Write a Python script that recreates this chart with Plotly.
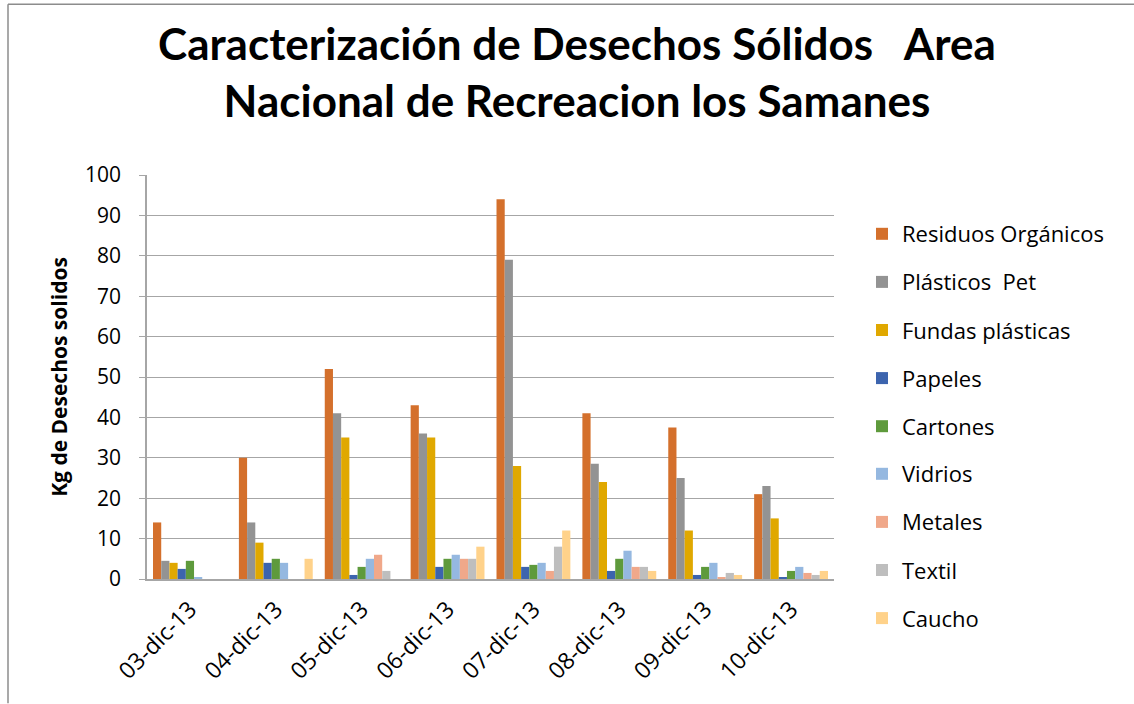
import plotly.graph_objects as go

# Dates of each sampling day
fechas = ["03-dic-13", "04-dic-13", "05-dic-13", "06-dic-13",
          "07-dic-13", "08-dic-13", "09-dic-13", "10-dic-13"]

# Kilograms collected per waste type and day
residuos_organicos = [14, 30, 52, 43, 94, 41, 37.5, 21]
plasticos_pet = [4.5, 14, 41, 36, 79, 28.5, 25, 23]
fundas_plasticas = [4, 9, 35, 35, 28, 24, 12, 15]
papeles = [2.5, 4, 1, 3, 3, 2, 1, 0.5]
cartones = [4.5, 5, 3, 5, 3.5, 5, 3, 2]
vidrios = [0.4, 4, 5, 6, 4, 7, 4, 3]
metales = [0, 0, 6, 5, 2, 3, 0.5, 1.5]
textil = [0, 0, 2, 5, 8, 3, 1.5, 1]
caucho = [0, 5, 0, 8, 12, 2, 1, 2]

series = [
    ("Residuos Orgánicos", residuos_organicos, "#D4702C"),
    ("Plásticos  Pet", plasticos_pet, "#939393"),
    ("Fundas plásticas", fundas_plasticas, "#E0A800"),
    ("Papeles", papeles, "#3C64AE"),
    ("Cartones", cartones, "#5E9A3C"),
    ("Vidrios", vidrios, "#95B8E0"),
    ("Metales", metales, "#F0A88A"),
    ("Textil", textil, "#BEBEBE"),
    ("Caucho", caucho, "#FFD28A"),
]

fig = go.Figure()
for i, (nombre, valores, color) in enumerate(series):
    # the legend column is split in two boxes so it is never scrolled
    fig.add_trace(go.Bar(
        x=fechas, y=valores, name=nombre,
        marker=dict(color=color, line=dict(width=0)),
        legendgroup=f"g{i}",
        legend="legend" if i < 5 else "legend2",
    ))

W, H = 1134, 704
L, R, T, B = 147, 1134 - 834, 175, 704 - 579.5
pw, ph = W - L - R, H - T - B


def px_x(px):
    return (px - L) / pw


def px_y(py):
    return (H - B - py) / ph


gris = "#A6A6A6"
legend_style = dict(
    x=px_x(862), xanchor="left", xref="paper",
    yanchor="top", yref="container",
    traceorder="grouped", tracegroupgap=16.5,
    font=dict(family="Open Sans", size=22, color="#000000"),
    bgcolor="rgba(0,0,0,0)",
)

fig.update_layout(
    width=W, height=H,
    margin=dict(l=L, r=R, t=T, b=B, autoexpand=False),
    paper_bgcolor="white", plot_bgcolor="white",
    barmode="group", bargap=0.14, bargroupgap=0,
    font=dict(family="Open Sans", color="#000000"),
    title=dict(
        text="<b>Caracterización de Desechos Sólidos   Area<br>Nacional de Recreacion los Samanes</b>",
        x=577 / W, xanchor="center", xref="container",
        y=1 - 60 / H, yanchor="middle", yref="container",
        font=dict(family="Lato", size=44, color="#000000"),
    ),
    legend=dict(legend_style, y=1 - 213 / H),
    legend2=dict(legend_style, y=1 - 453 / H),
    showlegend=True,
    xaxis=dict(
        showgrid=False, showline=True, linecolor=gris, linewidth=1.5,
        tickangle=-45, ticks="", ticklabelstandoff=6,
        tickfont=dict(family="Open Sans", size=23, color="#000000"),
    ),
    yaxis=dict(
        range=[0, 100], dtick=10, showgrid=True, gridcolor=gris, gridwidth=1.2,
        showline=True, linecolor=gris, linewidth=1.5,
        ticks="outside", ticklen=6, tickcolor=gris, ticklabelstandoff=14,
        tickfont=dict(family="Open Sans", size=21, color="#000000"),
        zeroline=False,
        title=dict(text="<b>Kg de Desechos solidos</b>", standoff=12,
                   font=dict(family="Open Sans", size=21, color="#000000")),
    ),
    shapes=[
        dict(type="line", xref="paper", yref="paper",
             x0=px_x(8), x1=px_x(1134), y0=px_y(4), y1=px_y(4),
             line=dict(color="#8C8C8C", width=1.5)),
        dict(type="line", xref="paper", yref="paper",
             x0=px_x(8), x1=px_x(8), y0=px_y(4), y1=px_y(704),
             line=dict(color="#8C8C8C", width=1.5)),
    ],
)

fig.write_html("out.html", config={"displayModeBar": False})
